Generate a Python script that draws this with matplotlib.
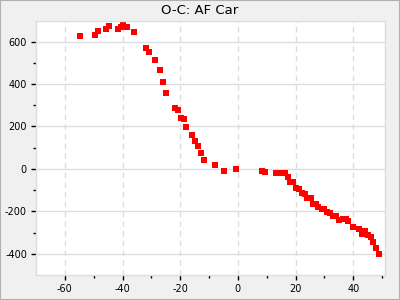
import numpy as np
import matplotlib
matplotlib.use("Agg")
import matplotlib.pyplot as plt
from matplotlib.patches import Rectangle
from matplotlib.ticker import MultipleLocator, FixedLocator

plt.rcParams["axes.unicode_minus"] = False

# O-C values
epoch = [-54.8, -49.6, -48.6, -45.9, -44.8, -41.7, -40.7, -39.7, -38.6, -35.9,
         -31.7, -30.7, -28.6, -27.0, -25.9, -24.8, -21.7, -20.7, -19.7, -18.6,
         -17.9, -15.9, -14.8, -13.8, -12.8, -11.7, -7.9, -4.8, -0.8,
         8.2, 9.3, 13.1, 15.1, 16.2, 17.2, 18.2, 19.0, 20.0, 21.2,
         22.1, 23.1, 24.1, 25.3, 26.2, 27.1, 27.9, 29.0, 30.0, 31.0,
         32.1, 33.1, 34.1, 35.2, 36.3, 37.4, 38.1, 40.0, 42.1, 43.1,
         44.1, 45.2, 46.2, 46.9, 47.9, 49.0]
oc = [628, 633, 649, 661, 675, 661, 668, 680, 671, 643,
      572, 549, 511, 464, 408, 356, 285, 276, 238, 234,
      196, 158, 130, 107, 74, 41, 17, -11, 0,
      -11, -16, -20, -20, -20, -39, -63, -63, -91, -96,
      -114, -119, -138, -138, -166, -166, -180, -189, -189, -204,
      -208, -222, -222, -241, -236, -236, -246, -274, -283, -307,
      -293, -312, -321, -345, -373, -401]

fig = plt.figure(figsize=(4, 3), dpi=100, facecolor="#f0f0f0")
fig.patches.append(Rectangle((0, 0), 1, 1, transform=fig.transFigure,
                             fill=False, edgecolor="#b0b0b0", linewidth=1.5))
ax = fig.add_axes([36/400, 25/300, 349/400, 254/300])
ax.set_facecolor("white")

ax.plot(epoch, oc, "s", color="#ff0000", markersize=4.3, markeredgewidth=0)

ax.set_xlim(-70, 51)
ax.set_ylim(-500, 697)
ax.xaxis.set_major_locator(MultipleLocator(20))
ax.xaxis.set_minor_locator(FixedLocator([-50, -30, -10, 10, 30, 50]))
ax.yaxis.set_major_locator(MultipleLocator(200))
ax.yaxis.set_minor_locator(FixedLocator([-300, -100, 100, 300, 500]))

ax.grid(axis="y", which="major", color="#dddddd", linewidth=1, linestyle="-")
ax.grid(axis="x", which="major", color="#dddddd", linewidth=1, linestyle=(0, (4, 3)))
ax.set_axisbelow(True)

for s in ax.spines.values():
    s.set_color("#dddddd")
    s.set_linewidth(1)

ax.tick_params(which="major", direction="out", length=3.5, width=1,
               color="black", labelsize=7, pad=3)
ax.tick_params(which="minor", direction="out", length=2, width=1, color="black")
ax.tick_params(top=False, right=False)

fig.text(0.5, 1 - 11/300, "O-C: AF Car", ha="center", va="center", fontsize=9.5)

fig.savefig("out.png", dpi=100, facecolor=fig.get_facecolor())
